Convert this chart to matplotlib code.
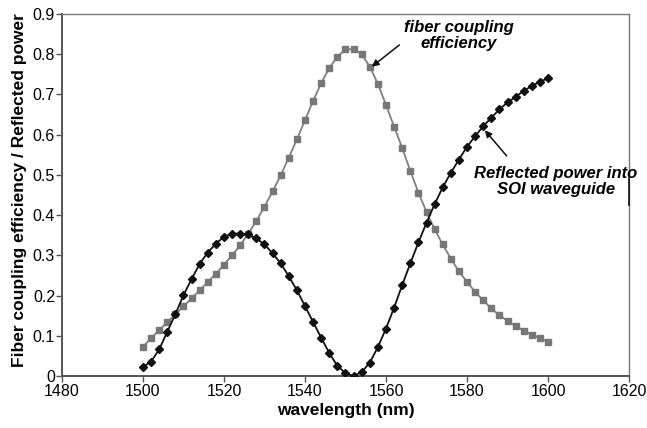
import matplotlib
matplotlib.use("Agg")
import matplotlib.pyplot as plt
from matplotlib.lines import Line2D

plt.rcParams['font.family'] = ['Liberation Sans', 'DejaVu Sans']

wavelength = list(range(1500, 1601, 2))

fiber_coupling = [0.073, 0.094, 0.114, 0.134, 0.153, 0.173, 0.193, 0.213, 0.234, 0.254,
                  0.277, 0.300, 0.325, 0.354, 0.386, 0.421, 0.459, 0.499, 0.543, 0.588,
                  0.636, 0.684, 0.728, 0.766, 0.794, 0.812, 0.813, 0.800, 0.769, 0.726,
                  0.674, 0.620, 0.567, 0.510, 0.456, 0.408, 0.365, 0.327, 0.292, 0.260,
                  0.234, 0.209, 0.188, 0.168, 0.151, 0.137, 0.124, 0.113, 0.103, 0.094,
                  0.085]

reflected = [0.022, 0.036, 0.066, 0.110, 0.154, 0.201, 0.241, 0.279, 0.307, 0.329,
             0.346, 0.354, 0.354, 0.352, 0.342, 0.327, 0.305, 0.280, 0.248, 0.213,
             0.174, 0.134, 0.095, 0.057, 0.025, 0.007, 0.000, 0.010, 0.033, 0.072,
             0.118, 0.170, 0.226, 0.280, 0.332, 0.381, 0.427, 0.469, 0.505, 0.538,
             0.570, 0.596, 0.621, 0.642, 0.663, 0.680, 0.694, 0.709, 0.721, 0.732,
             0.740]

xticks = [1480, 1500, 1520, 1540, 1560, 1580, 1600, 1620]
yticks = [0, 0.1, 0.2, 0.3, 0.4, 0.5, 0.6, 0.7, 0.8, 0.9]
ytick_labels = ['0', '0.1', '0.2', '0.3', '0.4', '0.5', '0.6', '0.7', '0.8', '0.9']

fig = plt.figure(figsize=(6.47, 4.28), dpi=100)
ax = fig.add_axes([0.0958, 0.1215, 0.8764, 0.8458])

ax.plot(wavelength, fiber_coupling, color='#808080', lw=1.3, marker='s',
        markersize=4.3, markerfacecolor='#777777', markeredgecolor='#777777', zorder=3)
ax.plot(wavelength, reflected, color='#111111', lw=1.3, marker='D',
        markersize=3.6, markerfacecolor='#111111', markeredgecolor='#111111', zorder=4)

ax.set_xlim(1480, 1620)
ax.set_ylim(0, 0.9)
ax.set_xticks(xticks)
ax.set_xticklabels([str(t) for t in xticks])
ax.set_yticks(yticks)
ax.set_yticklabels(ytick_labels)
ax.tick_params(axis='both', labelsize=11.5, direction='out', length=4,
               width=1, color='#555555', pad=1)
ax.tick_params(axis='x', pad=2)

for side in ['left', 'bottom']:
    ax.spines[side].set_color('#555555')
    ax.spines[side].set_linewidth(1.4)
for side in ['top', 'right']:
    ax.spines[side].set_color('#777777')
    ax.spines[side].set_linewidth(1.0)

ax.set_xlabel('wavelength (nm)', fontsize=12.5, fontweight='bold', labelpad=3)
ax.set_ylabel('Fiber coupling efficiency / Reflected power', fontsize=12.5,
              fontweight='bold')
ax.yaxis.set_label_coords(-0.061, 0.515)

ax.text(1578.0, 0.846, 'fiber coupling\nefficiency', fontsize=12, fontweight='bold',
        fontstyle='italic', ha='center', va='center', linespacing=1.1)
ax.annotate('', xy=(1556.5, 0.769), xytext=(1563.3, 0.823),
            arrowprops=dict(arrowstyle='-|>', color='#111111', lw=1.1,
                            shrinkA=0, shrinkB=0, mutation_scale=10))

ax.text(1602.0, 0.4835, 'Reflected power into\nSOI waveguide', fontsize=12,
        fontweight='bold', fontstyle='italic', ha='center', va='center',
        linespacing=1.1)
ax.annotate('', xy=(1584.4, 0.611), xytext=(1589.8, 0.547),
            arrowprops=dict(arrowstyle='-|>', color='#111111', lw=1.1,
                            shrinkA=0, shrinkB=0, mutation_scale=10))

ax.add_line(Line2D([1.0, 1.0], [0.472, 0.547], transform=ax.transAxes,
                   color='#111111', lw=1.2, clip_on=False, zorder=5))

fig.savefig('out.png', dpi=100)
